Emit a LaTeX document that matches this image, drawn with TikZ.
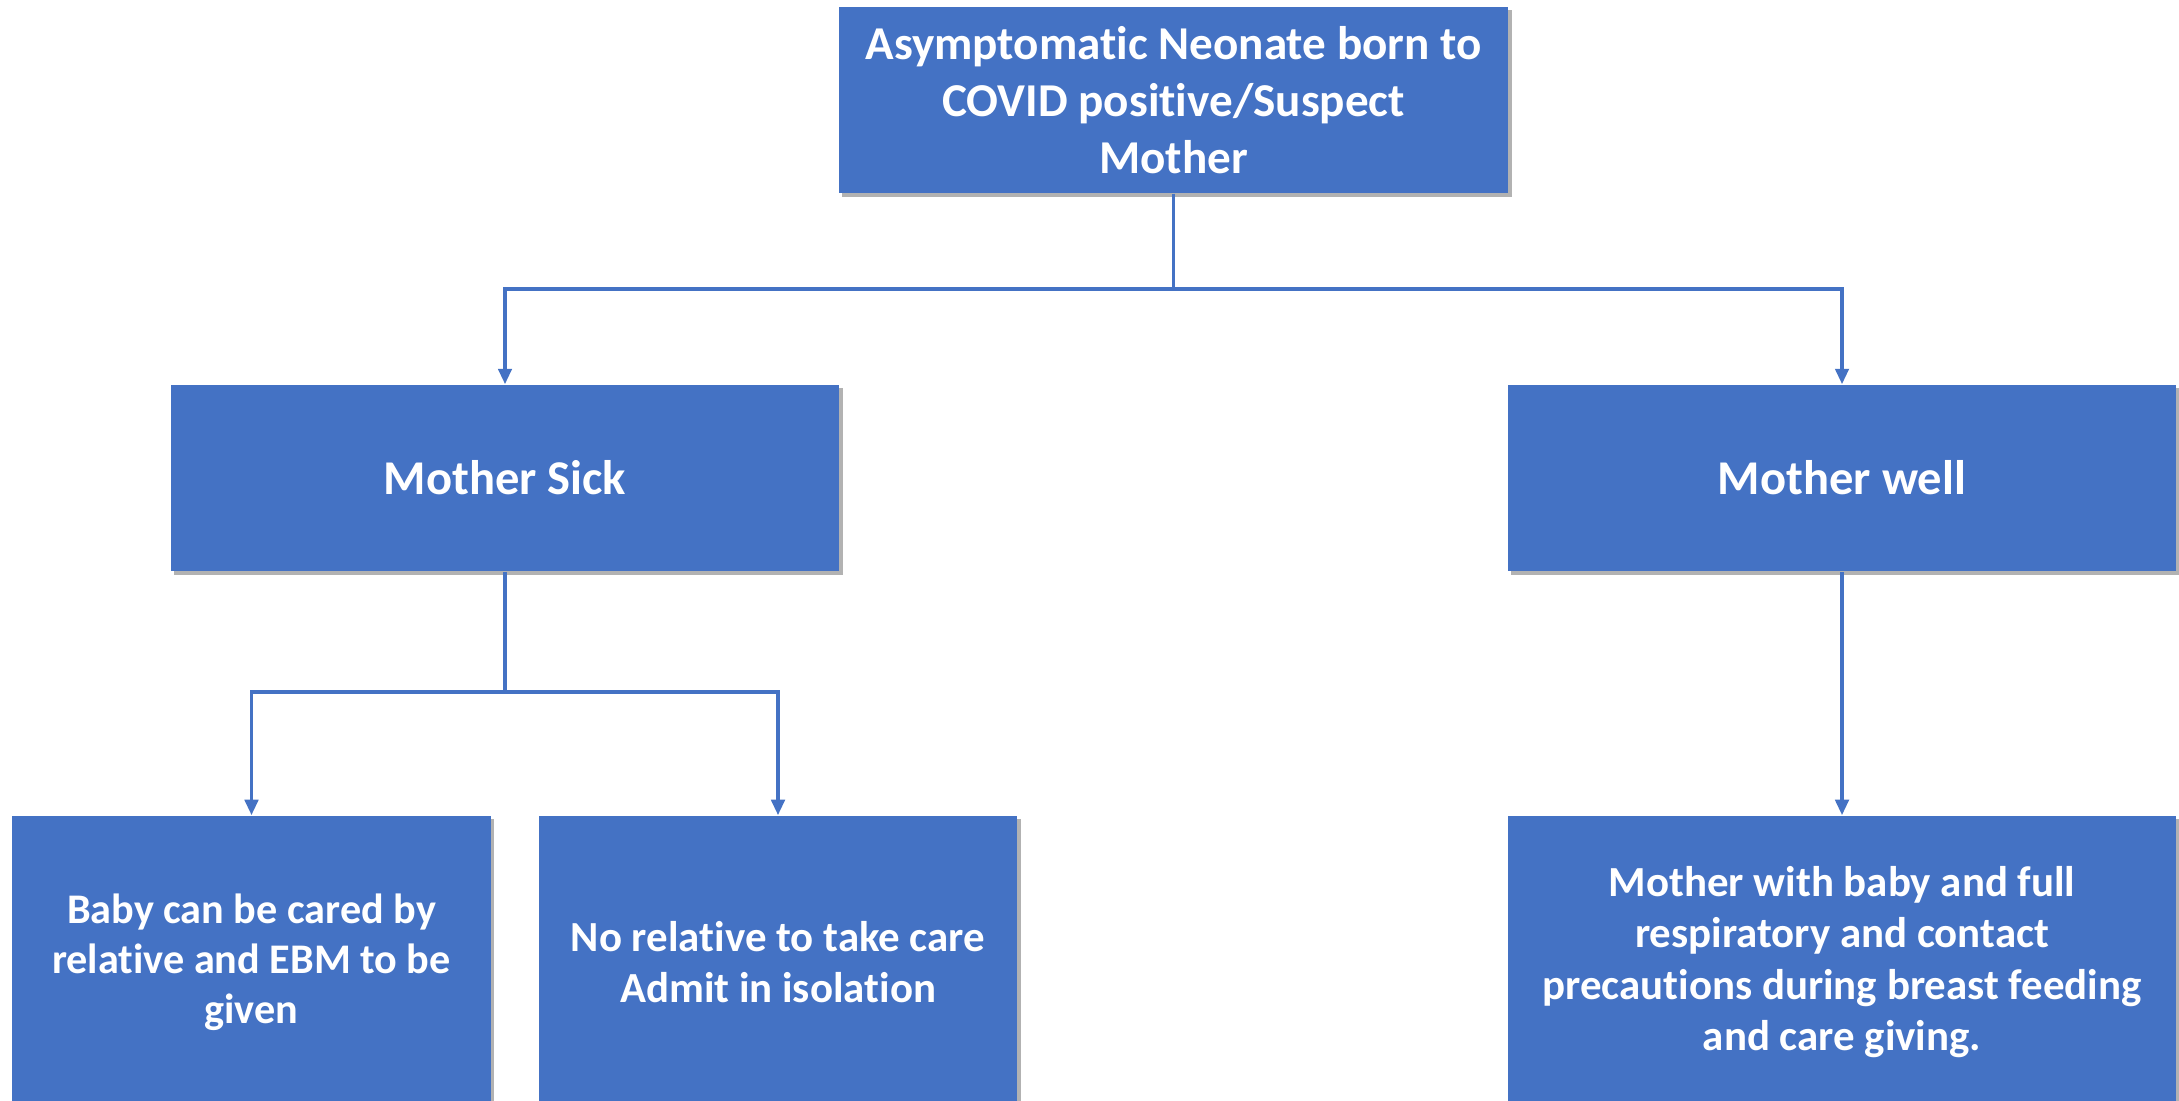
\documentclass[tikz,border=0pt]{standalone}
\usepackage{fontspec}
\setmainfont[RawFeature={-liga;-clig;-dlig;-calt;-rlig}]{Carlito}
\usetikzlibrary{arrows.meta,shadows}
\definecolor{boxblue}{HTML}{4472C4}
\tikzset{
  box/.style={fill=boxblue, text=white, inner sep=0pt, align=center,
    drop shadow={shadow xshift=0.035cm, shadow yshift=-0.035cm, fill=black, opacity=0.3}},
  conn/.style={draw=boxblue, line width=1pt, -{Triangle[length=4.4pt,width=3.8pt]}}
}
\begin{document}
\begin{tikzpicture}[x=0.01cm,y=-0.01cm]
\clip (0,0) rectangle (2179,1101);
\fill[white] (0,0) rectangle (2179,1101);
\node[box, minimum width=6.69cm, minimum height=1.86cm,
  font=\bfseries\fontsize{13.4}{16.3}\selectfont] (top) at (1173.5,100)
  {Asymptomatic Neonate born to\\COVID positive/Suspect\\Mother};
\node[box, minimum width=6.68cm, minimum height=1.86cm,
  font=\bfseries\fontsize{13.8}{17}\selectfont] (sick) at (505,478) {Mother Sick};
\node[box, minimum width=6.68cm, minimum height=1.86cm,
  font=\bfseries\fontsize{13.8}{17}\selectfont] (well) at (1842,478) {Mother well};
\node[box, minimum width=4.78cm, minimum height=2.92cm,
  font=\bfseries\fontsize{12}{14.2}\selectfont] (baby) at (251.5,962)
  {Baby can be cared by\\relative and EBM to be\\given};
\node[box, minimum width=4.78cm, minimum height=2.92cm,
  font=\bfseries\fontsize{12.2}{14.6}\selectfont] (norel) at (778,962)
  {No relative to take care\\Admit in isolation};
\node[box, minimum width=6.68cm, minimum height=2.92cm,
  font=\bfseries\fontsize{12.2}{14.6}\selectfont] (withbaby) at (1842,962)
  {Mother with baby and full\\respiratory and contact\\precautions during breast feeding\\and care giving.};
\coordinate (j1) at (1173.5,289);
\coordinate (j2) at (505,692);
\draw[conn] (top.south) -- (j1) -| (sick.north);
\draw[conn] (j1) -| (well.north);
\draw[conn] (sick.south) -- (j2) -| (baby.north);
\draw[conn] (j2) -| (norel.north);
\draw[conn] (well.south) -- (withbaby.north);
\end{tikzpicture}
\end{document}
